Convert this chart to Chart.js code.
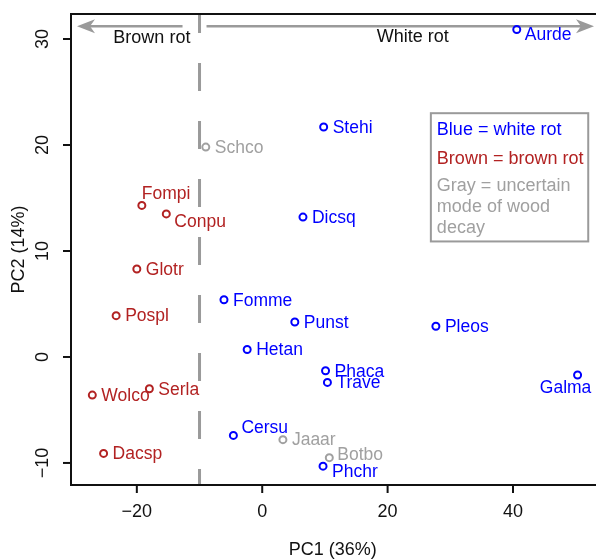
<!DOCTYPE html>
<html lang="en">
<head>
  <meta charset="UTF-8" />
  <title>PCA wood decay</title>
  <script src="https://cdn.jsdelivr.net/npm/chart.js"></script>
  <style>
    html, body { margin: 0; padding: 0; background: #fff; overflow: hidden; }
    #pca { display: block; }
  </style>
</head>
<body>
  <canvas id="pca" width="600" height="559"></canvas>

  <script>
    // species codes and PCA scores
    const species = ['Aurde', 'Stehi', 'Schco', 'Fompi', 'Conpu', 'Glotr', 'Pospl', 'Fomme', 'Punst', 'Hetan', 'Dicsq',
      'Pleos', 'Wolco', 'Serla', 'Dacsp', 'Cersu', 'Jaaar', 'Phaca', 'Trave', 'Galma', 'Botbo', 'Phchr'];
    const pc1 = [40.6, 9.8, -9.0, -19.2, -15.3, -20.0, -23.3, -6.1, 5.2, -2.4, 6.5,
      27.7, -27.1, -18.0, -25.3, -4.6, 3.3, 10.1, 10.4, 50.3, 10.7, 9.7];
    const pc2 = [30.9, 21.7, 19.8, 14.3, 13.5, 8.3, 3.9, 5.4, 3.3, 0.7, 13.2,
      2.9, -3.6, -3.0, -9.1, -7.4, -7.8, -1.3, -2.4, -1.7, -9.5, -10.3];
    const decay = ['white', 'white', 'unknown', 'brown', 'brown', 'brown', 'brown', 'white', 'white', 'white', 'white',
      'white', 'brown', 'brown', 'brown', 'white', 'unknown', 'white', 'white', 'white', 'unknown', 'white'];

    const xTicks = [-20, 0, 20, 40];
    const yTicks = [-10, 0, 10, 20, 30];
    const boundary = -10;

    const colores = { white: '#0000ff', brown: '#b22222', unknown: '#a0a0a0' };
    const FONT = '18px "Liberation Sans", Arial, sans-serif';
    const FONT_PTS = '17.5px "Liberation Sans", Arial, sans-serif';

    // label nudges in px: [dx, dy, align]
    const nudge = {
      Aurde: [8, 5], Fompi: [0, -12], Conpu: [8, 7], Cersu: [8, -8],
      Galma: [-12, 12.5, 'center'], Botbo: [8, -3], Phchr: [9, 5]
    };

    function montarDatasets() {
      const grupos = ['white', 'brown', 'unknown'];
      return grupos.map(g => {
        const pts = [];
        for (let i = 0; i < species.length; i++) {
          if (decay[i] === g) pts.push({ x: pc1[i], y: pc2[i], nome: species[i] });
        }
        return {
          label: g,
          data: pts,
          showLine: false,
          pointStyle: 'circle',
          pointRadius: 3.5,
          pointHoverRadius: 3.5,
          borderWidth: 2,
          borderColor: colores[g],
          backgroundColor: 'rgba(0,0,0,0)'
        };
      });
    }

    function seta(ctx, x0, x1, y) {
      const dir = Math.sign(x1 - x0);
      ctx.beginPath();
      ctx.moveTo(x0, y);
      ctx.lineTo(x1 - dir * 10, y);
      ctx.stroke();
      ctx.beginPath();
      ctx.moveTo(x1, y);
      ctx.lineTo(x1 - dir * 18, y - 7);
      ctx.lineTo(x1 - dir * 13, y);
      ctx.lineTo(x1 - dir * 18, y + 7);
      ctx.closePath();
      ctx.fill();
    }

    const fundo = {
      id: 'fundo',
      beforeDatasetsDraw(chart) {
        const { ctx, chartArea: a, scales: { x, y } } = chart;
        ctx.save();
        // dashed boundary between brown rot and white rot
        const bx = x.getPixelForValue(boundary);
        ctx.strokeStyle = '#9a9a9a';
        ctx.lineWidth = 3;
        ctx.setLineDash([28, 30]);
        ctx.lineDashOffset = 9;
        ctx.beginPath();
        ctx.moveTo(bx, a.top);
        ctx.lineTo(bx, a.bottom);
        ctx.stroke();
        ctx.setLineDash([]);

        // arrows
        const ay = y.getPixelForValue(31.2);
        ctx.lineWidth = 2.5;
        ctx.fillStyle = '#9a9a9a';
        seta(ctx, bx - 17, a.left + 6, ay);
        seta(ctx, bx + 7, 594, ay);

        ctx.fillStyle = '#111';
        ctx.font = FONT;
        ctx.textAlign = 'center';
        ctx.textBaseline = 'middle';
        ctx.fillText('Brown rot', x.getPixelForValue(-17.6), y.getPixelForValue(30.1));
        ctx.fillText('White rot', x.getPixelForValue(24), y.getPixelForValue(30.2));

        // legend box
        const lx = x.getPixelForValue(26.9), lt = y.getPixelForValue(23.0);
        const lr = x.getPixelForValue(52.0), lb = y.getPixelForValue(10.9);
        ctx.strokeStyle = '#9a9a9a';
        ctx.lineWidth = 2;
        ctx.strokeRect(lx, lt, lr - lx, lb - lt);
        ctx.textAlign = 'left';
        const linhas = [
          ['Blue = white rot', colores.white, 17],
          ['Brown = brown rot', colores.brown, 45.5],
          ['Gray = uncertain', colores.unknown, 72.5],
          ['mode of wood', colores.unknown, 93.5],
          ['decay', colores.unknown, 114.5]
        ];
        linhas.forEach(l => {
          ctx.fillStyle = l[1];
          ctx.fillText(l[0], lx + 6, lt + l[2]);
        });
        ctx.restore();
      },
      afterDatasetsDraw(chart) {
        const { ctx } = chart;
        ctx.save();
        ctx.font = FONT_PTS;
        ctx.textBaseline = 'middle';
        chart.data.datasets.forEach((ds, di) => {
          const meta = chart.getDatasetMeta(di);
          ctx.fillStyle = ds.borderColor;
          meta.data.forEach((pt, i) => {
            const nome = ds.data[i].nome;
            const n = nudge[nome] || [9, 0];
            ctx.textAlign = n[2] || 'left';
            ctx.fillText(nome, pt.x + n[0], pt.y + n[1] + 1);
          });
        });
        ctx.restore();
      },
      afterDraw(chart) {
        const { ctx, chartArea: a, scales: { x, y } } = chart;
        ctx.save();
        ctx.strokeStyle = '#111';
        ctx.lineWidth = 2;
        // box: left, top and bottom (right side falls outside the picture)
        ctx.beginPath();
        ctx.moveTo(chart.width, a.top);
        ctx.lineTo(a.left, a.top);
        ctx.lineTo(a.left, a.bottom);
        ctx.lineTo(chart.width, a.bottom);
        ctx.stroke();

        ctx.font = FONT;
        ctx.fillStyle = '#111';
        ctx.textAlign = 'center';
        ctx.textBaseline = 'middle';
        xTicks.forEach(v => {
          const px = x.getPixelForValue(v);
          ctx.beginPath();
          ctx.moveTo(px, a.bottom);
          ctx.lineTo(px, a.bottom + 8);
          ctx.stroke();
          ctx.fillText(String(v).replace('-', '\u2212'), px, a.bottom + 27);
        });
        yTicks.forEach(v => {
          const py = y.getPixelForValue(v);
          ctx.beginPath();
          ctx.moveTo(a.left, py);
          ctx.lineTo(a.left - 8, py);
          ctx.stroke();
          ctx.save();
          ctx.translate(a.left - 28, py);
          ctx.rotate(-Math.PI / 2);
          ctx.fillText(String(v).replace('-', '\u2212'), 0, 0);
          ctx.restore();
        });

        ctx.fillText('PC1 (36%)', (a.left + a.right) / 2, 550);
        ctx.save();
        ctx.translate(19, (a.top + a.bottom) / 2);
        ctx.rotate(-Math.PI / 2);
        ctx.fillText('PC2 (14%)', 0, 0);
        ctx.restore();
        ctx.restore();
      }
    };

    new Chart(document.getElementById('pca'), {
      type: 'scatter',
      data: { datasets: montarDatasets() },
      options: {
        responsive: false,
        animation: false,
        events: [],
        layout: { padding: { top: 14, right: 3, left: 0, bottom: 0 } },
        plugins: { legend: { display: false }, tooltip: { enabled: false } },
        scales: {
          x: {
            type: 'linear', min: -30.5, max: 53.0,
            grid: { display: false }, border: { display: false },
            ticks: { display: false },
            afterFit: s => { s.height = 74; }
          },
          y: {
            type: 'linear', min: -12.08, max: 32.36,
            grid: { display: false }, border: { display: false },
            ticks: { display: false },
            afterFit: s => { s.width = 71; }
          }
        }
      },
      plugins: [fundo]
    });
  </script>
</body>
</html>
